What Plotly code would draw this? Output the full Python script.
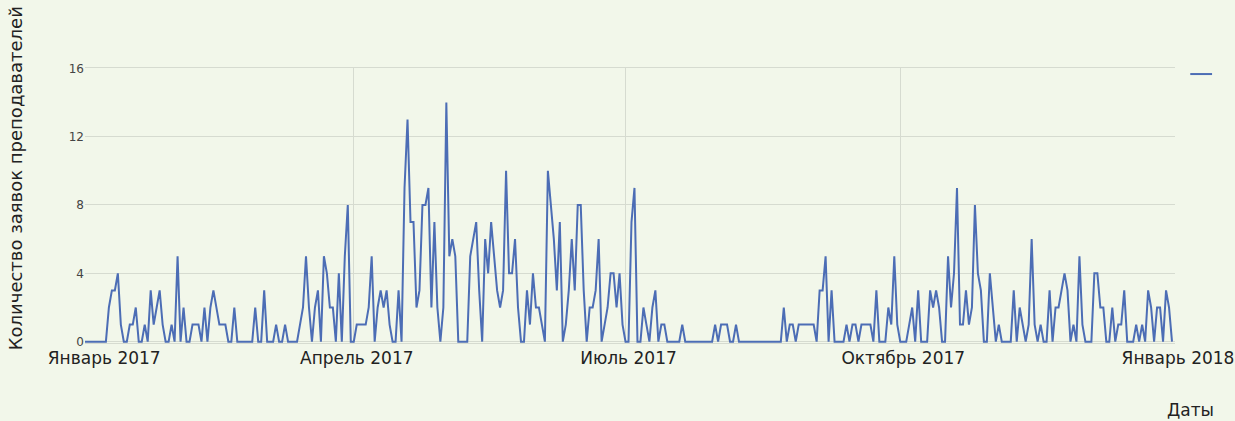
"""Daily teacher applications, 2017 (Google-Charts-like line chart)."""
import pandas as pd
import plotly.graph_objects as go

START_DATE = "2017-01-01"

# daily counts from 1 Jan 2017 to 31 Dec 2017
jan = [0, 0, 0, 0, 0, 0, 0, 0, 2, 3, 3, 4, 1, 0, 0, 1, 1, 2, 0, 0, 1, 0, 3, 1, 2, 3, 1, 0, 0, 1, 0]
feb = [5, 0, 2, 0, 0, 1, 1, 1, 0, 2, 0, 2, 3, 2, 1, 1, 1, 0, 0, 2, 0, 0, 0, 0, 0, 0, 2, 0]
mar = [0, 3, 0, 0, 0, 1, 0, 0, 1, 0, 0, 0, 0, 1, 2, 5, 2, 0, 2, 3, 0, 5, 4, 2, 2, 0, 4, 0, 5, 8, 0]
apr = [0, 1, 1, 1, 1, 2, 5, 0, 2, 3, 2, 3, 1, 0, 0, 3, 0, 9, 13, 7, 7, 2, 3, 8, 8, 9, 2, 7, 2, 0]
may = [2, 14, 5, 6, 5, 0, 0, 0, 0, 5, 6, 7, 3, 0, 6, 4, 7, 5, 3, 2, 3, 10, 4, 4, 6, 2, 0, 0, 3, 1, 4]
jun = [2, 2, 1, 0, 10, 8, 6, 3, 7, 0, 1, 3, 6, 3, 8, 8, 3, 0, 2, 2, 3, 6, 0, 1, 2, 4, 4, 2, 4, 1]
jul = [0, 0, 7, 9, 0, 0, 2, 1, 0, 2, 3, 0, 1, 1, 0, 0, 0, 0, 0, 1, 0, 0, 0, 0, 0, 0, 0, 0, 0, 0, 1]
aug = [0, 1, 1, 1, 0, 0, 1, 0, 0, 0, 0, 0, 0, 0, 0, 0, 0, 0, 0, 0, 0, 0, 2, 0, 1, 1, 0, 1, 1, 1, 1]
sep = [1, 1, 0, 3, 3, 5, 0, 3, 0, 0, 0, 0, 1, 0, 1, 1, 0, 1, 1, 1, 1, 0, 3, 0, 0, 0, 2, 1, 5, 1]
oct = [0, 0, 0, 1, 2, 0, 3, 0, 0, 0, 3, 2, 3, 2, 0, 0, 5, 2, 4, 9, 1, 1, 3, 1, 2, 8, 4, 3, 0, 0, 4]
nov = [2, 0, 1, 0, 0, 0, 0, 3, 0, 2, 1, 0, 1, 6, 1, 0, 1, 0, 0, 3, 0, 2, 2, 3, 4, 3, 0, 1, 0, 5]
dec = [1, 0, 0, 0, 4, 4, 2, 2, 0, 0, 2, 0, 1, 1, 3, 0, 0, 0, 1, 0, 1, 0, 3, 2, 0, 2, 2, 0, 3, 2, 0]

counts = jan + feb + mar + apr + may + jun + jul + aug + sep + oct + nov + dec
dates = pd.date_range(START_DATE, periods=len(counts), freq="D")

tick_dates = ["2017-01-01", "2017-04-01", "2017-07-01", "2017-10-01", "2018-01-01"]
tick_labels = ["Январь 2017", "Апрель 2017", "Июль 2017", "Октябрь 2017", "Январь 2018"]
y_ticks = [0, 4, 8, 12, 16]

BG = "#f2f7ea"
GRID = "#d6dbd0"
LINE = "#4c6db5"
FONT = "DejaVu Sans"
NBSP = "\u00a0"

# first label sits a bit right of its tick in the original, like Google Charts does
x_text = [NBSP * 6 + tick_labels[0]] + tick_labels[1:]

fig = go.Figure()
fig.add_trace(go.Scatter(x=dates, y=counts, mode="lines",
                         line=dict(color=LINE, width=2), showlegend=False))

fig.update_layout(
    width=1235, height=421,
    margin=dict(l=85, r=60, t=68, b=78),
    paper_bgcolor=BG, plot_bgcolor=BG,
    font=dict(family=FONT, size=13, color="#333333"),
    showlegend=False,
    # legend swatch without a label, as in the original
    shapes=[dict(type="line", xref="paper", yref="paper", x0=1.014, x1=1.034, y0=0.978, y1=0.978,
                 line=dict(color=LINE, width=2))],
    annotations=[
        dict(text="Количество заявок преподавателей", textangle=-90, showarrow=False,
             xref="paper", yref="paper", x=-0.064, y=0.6, xanchor="center", yanchor="middle",
             font=dict(size=18, color="#222")),
        dict(text="Даты", showarrow=False, xref="paper", yref="paper",
             x=1.014, y=-0.245, xanchor="center", yanchor="middle",
             font=dict(size=17, color="#222")),
    ],
)
fig.update_xaxes(range=["2017-01-01", "2018-01-01"], tickvals=tick_dates, ticktext=x_text,
                 showgrid=True, gridcolor=GRID, gridwidth=1, zeroline=False,
                 showline=True, linecolor=GRID, mirror=True, ticks="", automargin=False,
                 ticklabelshift=3, tickfont=dict(size=17, color="#222"))
fig.update_yaxes(range=[-0.08, 16.02], tickvals=y_ticks, ticksuffix=NBSP * 3,
                 showgrid=True, gridcolor=GRID, gridwidth=1, zeroline=False,
                 showline=False, ticks="", automargin=False,
                 tickfont=dict(size=12, color="#444"))

fig.write_html("out.html", config={"displayModeBar": False},
               post_script="document.body.style.margin='0';")
